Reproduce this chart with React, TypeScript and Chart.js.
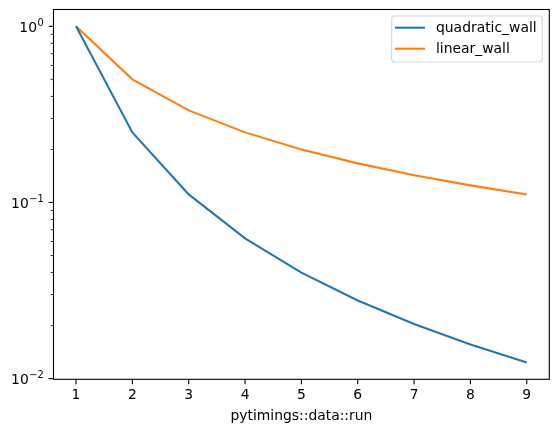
import React, { useEffect, useRef } from "react";
import { Chart, registerables } from "chart.js";

Chart.register(...registerables);

const runs = [1, 2, 3, 4, 5, 6, 7, 8, 9];
const quadraticWall = [1, 0.25, 0.1111, 0.0625, 0.04, 0.02778, 0.02041, 0.01563, 0.01235];
const linearWall = [1, 0.5, 0.3333, 0.25, 0.2, 0.1667, 0.1429, 0.125, 0.1111];
const xTickLabels = ["1", "2", "3", "4", "5", "6", "7", "8", "9"];
const yDecades = [0, -1, -2];
const seriesNames = ["quadratic_wall", "linear_wall"];
const seriesColors = ["#1f77b4", "#ff7f0e"];

const FONT = '"DejaVu Sans", sans-serif';

const axesPlugin = {
  id: "mplAxes",
  afterDraw(chart: any) {
    const ctx = chart.ctx as CanvasRenderingContext2D;
    const { left, right, top, bottom } = chart.chartArea;
    const xs = chart.scales.x;
    const ys = chart.scales.y;
    ctx.save();
    // frame
    ctx.strokeStyle = "#000";
    ctx.lineWidth = 1.1;
    ctx.strokeRect(left, top, right - left, bottom - top);

    // x ticks
    ctx.fillStyle = "#000";
    ctx.font = `13.9px ${FONT}`;
    ctx.textAlign = "center";
    ctx.textBaseline = "top";
    runs.forEach((v, i) => {
      const px = xs.getPixelForValue(v);
      ctx.beginPath();
      ctx.moveTo(px, bottom);
      ctx.lineTo(px, bottom + 4.9);
      ctx.stroke();
      ctx.fillText(xTickLabels[i], px, bottom + 9.3);
    });

    // y ticks
    const yMin = ys.min, yMax = ys.max;
    for (let e = -3; e <= 1; e++) {
      for (let m = 1; m <= 9; m++) {
        const v = m * Math.pow(10, e);
        if (v < yMin || v > yMax) continue;
        const py = ys.getPixelForValue(v);
        const len = m === 1 ? 4.9 : 2.8;
        ctx.lineWidth = m === 1 ? 1.1 : 0.85;
        ctx.beginPath();
        ctx.moveTo(left, py);
        ctx.lineTo(left - len, py);
        ctx.stroke();
      }
    }
    // y labels with superscript
    yDecades.forEach((e) => {
      const py = ys.getPixelForValue(Math.pow(10, e));
      const sup = e < 0 ? "\u2212" + Math.abs(e) : String(e);
      ctx.font = `9.8px ${FONT}`;
      const wSup = ctx.measureText(sup).width;
      ctx.font = `13.9px ${FONT}`;
      const wBase = ctx.measureText("10").width;
      const rightEdge = left - 4.9 - 4.9;
      const x0 = rightEdge - wSup - wBase - 0.5;
      ctx.textAlign = "left";
      ctx.textBaseline = "alphabetic";
      ctx.fillText("10", x0, py + 5.5);
      ctx.font = `9.8px ${FONT}`;
      ctx.fillText(sup, x0 + wBase + 0.5, py - 0.5);
    });

    // axis title
    ctx.font = `13.9px ${FONT}`;
    ctx.textAlign = "center";
    ctx.textBaseline = "alphabetic";
    ctx.fillText("pytimings::data::run", (left + right) / 2, 420);

    // legend
    const lx = 391.7, ly = 16, lw = 150.6, lh = 46;
    ctx.beginPath();
    (ctx as any).roundRect(lx, ly, lw, lh, 3);
    ctx.fillStyle = "rgba(255,255,255,0.8)";
    ctx.fill();
    ctx.strokeStyle = "rgba(204,204,204,0.8)";
    ctx.lineWidth = 1.1;
    ctx.stroke();
    seriesNames.forEach((name, i) => {
      const yy = 27.7 + i * 21;
      ctx.strokeStyle = seriesColors[i];
      ctx.lineWidth = 2.08;
      ctx.beginPath();
      ctx.moveTo(395, yy);
      ctx.lineTo(425, yy);
      ctx.stroke();
      ctx.fillStyle = "#000";
      ctx.font = `13.9px ${FONT}`;
      ctx.textAlign = "left";
      ctx.textBaseline = "middle";
      ctx.fillText(name, 436, yy + 0.5);
    });
    ctx.restore();
  },
};

export default function App() {
  const ref = useRef<HTMLCanvasElement>(null);
  useEffect(() => {
    if (!ref.current) return;
    const chart = new Chart(ref.current, {
      type: "line",
      data: {
        datasets: [
          {
            label: seriesNames[0],
            data: runs.map((x, i) => ({ x, y: quadraticWall[i] })),
            borderColor: seriesColors[0],
            borderWidth: 2.08,
            pointRadius: 0,
            fill: false,
            tension: 0,
          },
          {
            label: seriesNames[1],
            data: runs.map((x, i) => ({ x, y: linearWall[i] })),
            borderColor: seriesColors[1],
            borderWidth: 2.08,
            pointRadius: 0,
            fill: false,
            tension: 0,
          },
        ],
      },
      options: {
        animation: false,
        responsive: false,
        devicePixelRatio: 1,
        layout: { padding: { left: 53.5, top: 9.5, right: 8.7, bottom: 52.7 } },
        plugins: { legend: { display: false }, tooltip: { enabled: false } },
        scales: {
          x: { type: "linear", display: false, min: 0.6, max: 9.4, bounds: "data" },
          y: { type: "logarithmic", display: false, min: 0.00991, max: 1.246, bounds: "data" },
        },
      },
      plugins: [axesPlugin],
    });
    return () => chart.destroy();
  }, []);
  return (
    <div style={{ position: "fixed", left: 0, top: 0, width: 558, height: 432, background: "#fff" }}>
      <canvas ref={ref} width={558} height={432} style={{ width: 558, height: 432 }} />
    </div>
  );
}
